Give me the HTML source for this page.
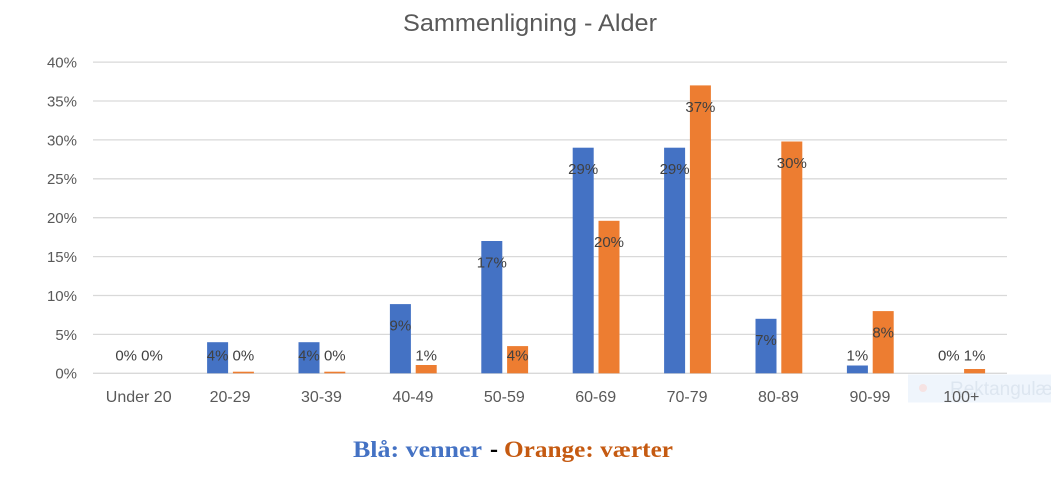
<!DOCTYPE html>
<html><head><meta charset="utf-8"><style>
html,body{margin:0;padding:0;background:#fff;}
svg{display:block;}
text{font-family:"Liberation Sans",sans-serif;}
</style></head><body>
<svg width="1051" height="482" viewBox="0 0 1051 482" xmlns="http://www.w3.org/2000/svg">
<rect x="0" y="0" width="1051" height="482" fill="#ffffff"/>
<text x="403" y="31" font-size="24" fill="#595959" textLength="254" lengthAdjust="spacingAndGlyphs">Sammenligning - Alder</text>
<g stroke="#d9d9d9" stroke-width="1.3">
<line x1="93" x2="1007" y1="62.1" y2="62.1"/>
<line x1="93" x2="1007" y1="101" y2="101"/>
<line x1="93" x2="1007" y1="139.9" y2="139.9"/>
<line x1="93" x2="1007" y1="178.8" y2="178.8"/>
<line x1="93" x2="1007" y1="217.7" y2="217.7"/>
<line x1="93" x2="1007" y1="256.6" y2="256.6"/>
<line x1="93" x2="1007" y1="295.5" y2="295.5"/>
<line x1="93" x2="1007" y1="334.4" y2="334.4"/>
<line x1="93" x2="1007" y1="373.3" y2="373.3"/>
</g>
<g font-size="15" fill="#595959" text-anchor="end">
<text x="77" y="67.5">40%</text>
<text x="77" y="106.4">35%</text>
<text x="77" y="145.3">30%</text>
<text x="77" y="184.2">25%</text>
<text x="77" y="223.1">20%</text>
<text x="77" y="262">15%</text>
<text x="77" y="300.9">10%</text>
<text x="77" y="339.8">5%</text>
<text x="77" y="378.7">0%</text>
</g>
<g fill="#4472c4">
<rect x="207.1" y="342.2" width="21" height="31.1"/>
<rect x="298.5" y="342.2" width="21" height="31.1"/>
<rect x="389.9" y="304.1" width="21" height="69.2"/>
<rect x="481.3" y="241" width="21" height="132.3"/>
<rect x="572.7" y="147.7" width="21" height="225.6"/>
<rect x="664.1" y="147.7" width="21" height="225.6"/>
<rect x="755.5" y="318.8" width="21" height="54.5"/>
<rect x="846.9" y="365.5" width="21" height="7.8"/>
</g>
<g fill="#ed7d31">
<rect x="232.9" y="371.7" width="21" height="1.6"/>
<rect x="324.3" y="371.7" width="21" height="1.6"/>
<rect x="415.7" y="365" width="21" height="8.3"/>
<rect x="507.1" y="346.1" width="21" height="27.2"/>
<rect x="598.5" y="220.8" width="21" height="152.5"/>
<rect x="689.9" y="85.4" width="21" height="287.9"/>
<rect x="781.3" y="141.5" width="21" height="231.8"/>
<rect x="872.7" y="311.1" width="21" height="62.2"/>
<rect x="964.1" y="369" width="21" height="4.3"/>
</g>
<g font-size="15" fill="#404040" text-anchor="middle">
<text x="126.2" y="360.4">0%</text><text x="152" y="360.4">0%</text>
<text x="217.6" y="360.4">4%</text><text x="243.4" y="360.4">0%</text>
<text x="309" y="360.4">4%</text><text x="334.8" y="360.4">0%</text>
<text x="400.4" y="330.5">9%</text><text x="426.2" y="360.4">1%</text>
<text x="491.8" y="267.4">17%</text><text x="517.6" y="360.4">4%</text>
<text x="583.2" y="174.1">29%</text><text x="609" y="247.2">20%</text>
<text x="674.6" y="174.1">29%</text><text x="700.4" y="111.8">37%</text>
<text x="766" y="345.2">7%</text><text x="791.8" y="167.9">30%</text>
<text x="857.4" y="360.4">1%</text><text x="883.2" y="337.5">8%</text>
<text x="948.8" y="360.4">0%</text><text x="974.6" y="360.4">1%</text>
</g>
<rect x="908" y="374.5" width="143" height="28" fill="#eff5fc"/>
<circle cx="923" cy="388" r="4" fill="#f6e3e3"/>
<text x="950" y="395" font-size="19" fill="#dde6f0">Rektangulært</text>
<g font-size="16" fill="#595959" text-anchor="middle">
<text x="138.7" y="401.8">Under 20</text>
<text x="230.1" y="401.8">20-29</text>
<text x="321.5" y="401.8">30-39</text>
<text x="412.9" y="401.8">40-49</text>
<text x="504.3" y="401.8">50-59</text>
<text x="595.7" y="401.8">60-69</text>
<text x="687.1" y="401.8">70-79</text>
<text x="778.5" y="401.8">80-89</text>
<text x="869.9" y="401.8">90-99</text>
<text x="961.3" y="401.8">100+</text>
</g>
<g font-weight="bold" font-size="23">
<text x="353" y="457" fill="#4472c4" style="font-family:'Liberation Serif',serif" textLength="129" lengthAdjust="spacingAndGlyphs">Blå: venner</text>
<text x="490" y="457" fill="#000000" style="font-family:'Liberation Serif',serif;font-size:26px" textLength="8" lengthAdjust="spacingAndGlyphs">-</text>
<text x="504" y="457" fill="#c55a11" style="font-family:'Liberation Serif',serif" textLength="169" lengthAdjust="spacingAndGlyphs">Orange: værter</text>
</g>
</svg>
</body></html>
